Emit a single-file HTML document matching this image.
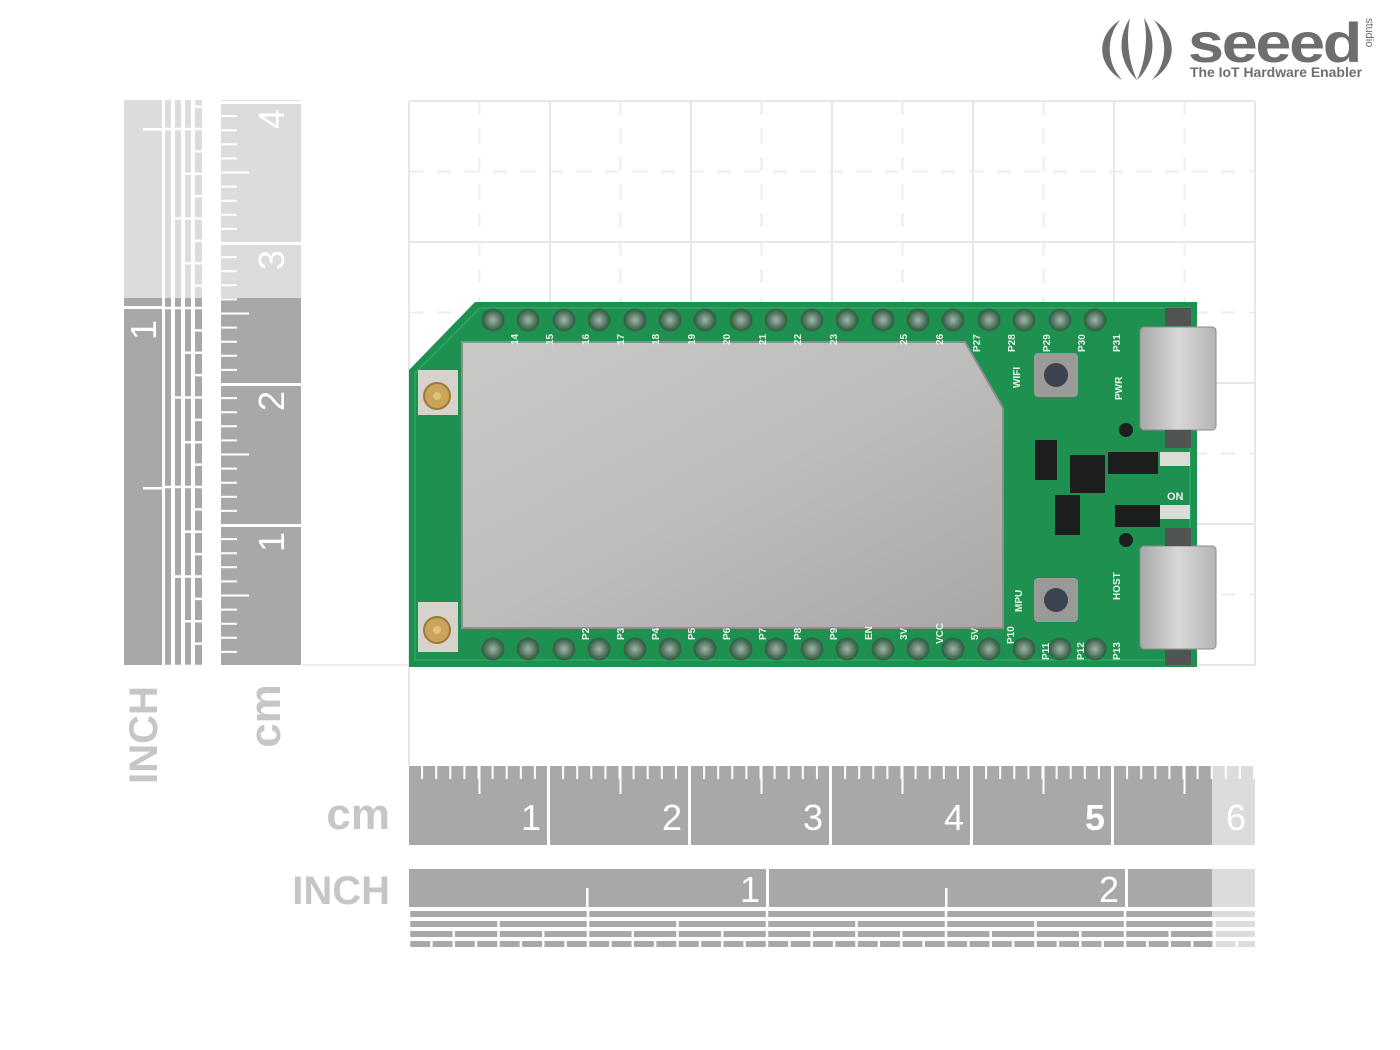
<!DOCTYPE html>
<html><head><meta charset="utf-8"><style>
html,body{margin:0;padding:0;background:#fff;}
svg{display:block;}
text{font-family:"Liberation Sans",sans-serif;}
</style></head><body>
<svg width="1400" height="1050" viewBox="0 0 1400 1050" xmlns="http://www.w3.org/2000/svg">
<defs>
 <linearGradient id="metal" x1="0" y1="0" x2="1" y2="1"><stop offset="0" stop-color="#c9c9c7"/><stop offset="0.5" stop-color="#bdbdbb"/><stop offset="1" stop-color="#a9a7a5"/></linearGradient>
 <linearGradient id="usb" x1="0" y1="0" x2="1" y2="0"><stop offset="0" stop-color="#a8a8a8"/><stop offset="0.5" stop-color="#d8d8d8"/><stop offset="1" stop-color="#b5b5b5"/></linearGradient>
 <radialGradient id="pin"><stop offset="0" stop-color="#9fb8a8"/><stop offset="0.6" stop-color="#5d7d6a"/><stop offset="1" stop-color="#2f5a40"/></radialGradient>
</defs>

<!-- background grid -->
<g stroke="#e6e6e6" stroke-width="2" fill="none">
 <path d="M409 101H1255M409 242H1255M409 383H1255M409 524H1255M409 665H1255"/>
 <path d="M409 101V765M550 101V665M691 101V665M832 101V665M973 101V665M1114 101V665M1255 101V665"/>
</g>
<g stroke="#ececec" stroke-width="2" stroke-dasharray="14 14" fill="none">
 <path d="M409 171.5H1255M409 312.5H1255M409 453.5H1255M409 594.5H1255"/>
 <path d="M479.5 101V665M620.5 101V665M761.5 101V665M902.5 101V665M1043.5 101V665M1184.5 101V665"/>
</g>
<path d="M302 665H409" stroke="#ececec" stroke-width="2"/>

<!-- bottom cm ruler -->
<rect x="409" y="766" width="803" height="79" fill="#a7a8a7"/>
<rect x="1212" y="766" width="43" height="79" fill="#dcdcdc"/>
<line x1="421.1" y1="772.5" x2="1255" y2="772.5" stroke="#fff" stroke-width="13" stroke-dasharray="2 12.1"/>
<line x1="478.5" y1="780" x2="1255" y2="780" stroke="#fff" stroke-width="28" stroke-dasharray="2 139"/>
<g fill="#fff"><rect x="547" y="766" width="3" height="79"/><rect x="688" y="766" width="3" height="79"/><rect x="829" y="766" width="3" height="79"/><rect x="970" y="766" width="3" height="79"/><rect x="1111" y="766" width="3" height="79"/></g>
<g fill="#fff" font-size="36" text-anchor="end">
 <text x="541" y="830">1</text><text x="682" y="830">2</text><text x="823" y="830">3</text><text x="964" y="830">4</text><text x="1105" y="830" font-weight="bold">5</text><text x="1246" y="830">6</text>
</g>
<text x="390" y="829" font-size="44" font-weight="bold" fill="#c6c6c6" text-anchor="end">cm</text>

<!-- bottom inch ruler -->
<rect x="409" y="869" width="803" height="38" fill="#a7a8a7"/>
<rect x="1212" y="869" width="43" height="38" fill="#dcdcdc"/>
<g>
 <rect x="409" y="911" width="803" height="6" fill="#a7a8a7"/><rect x="409" y="921" width="803" height="6" fill="#a7a8a7"/><rect x="409" y="931" width="803" height="6" fill="#a7a8a7"/><rect x="409" y="941" width="803" height="6" fill="#a7a8a7"/>
 <rect x="1212" y="911" width="43" height="6" fill="#dcdcdc"/><rect x="1212" y="921" width="43" height="6" fill="#dcdcdc"/><rect x="1212" y="931" width="43" height="6" fill="#dcdcdc"/><rect x="1212" y="941" width="43" height="6" fill="#dcdcdc"/>
</g>
<g stroke="#fff" stroke-width="2.5">
 <line x1="407.75" y1="914" x2="1256" y2="914" stroke-dasharray="2.5 176.5" stroke-width="6"/>
 <line x1="407.75" y1="924" x2="1256" y2="924" stroke-dasharray="2.5 87" stroke-width="6"/>
 <line x1="407.75" y1="934" x2="1256" y2="934" stroke-dasharray="2.5 42.25" stroke-width="6"/>
 <line x1="407.75" y1="944" x2="1256" y2="944" stroke-dasharray="2.5 19.875" stroke-width="6"/>
</g>
<rect x="766" y="869" width="3" height="40" fill="#fff"/><rect x="1125" y="869" width="3" height="40" fill="#fff"/>
<rect x="586" y="888" width="2.5" height="20" fill="#fff"/><rect x="945" y="888" width="2.5" height="20" fill="#fff"/>
<g fill="#fff" font-size="36" text-anchor="end"><text x="760" y="902">1</text><text x="1119" y="902">2</text></g>
<text x="390" y="904" font-size="40" font-weight="bold" fill="#c6c6c6" text-anchor="end">INCH</text>

<!-- left inch ruler -->
<rect x="124" y="100" width="38" height="198" fill="#dcdcdc"/>
<rect x="124" y="298" width="38" height="367" fill="#a7a8a7"/>
<g>
 <rect x="165" y="100" width="6" height="198" fill="#dcdcdc"/><rect x="175" y="100" width="6" height="198" fill="#dcdcdc"/><rect x="185" y="100" width="6" height="198" fill="#dcdcdc"/><rect x="195" y="100" width="7" height="198" fill="#dcdcdc"/>
 <rect x="165" y="298" width="6" height="367" fill="#a7a8a7"/><rect x="175" y="298" width="6" height="367" fill="#a7a8a7"/><rect x="185" y="298" width="6" height="367" fill="#a7a8a7"/><rect x="195" y="298" width="7" height="367" fill="#a7a8a7"/>
</g>
<g stroke="#fff">
 <line x1="168" y1="667.25" x2="168" y2="100" stroke-dasharray="2.5 176.5" stroke-width="6"/>
 <line x1="178" y1="667.25" x2="178" y2="100" stroke-dasharray="2.5 87" stroke-width="6"/>
 <line x1="188" y1="667.25" x2="188" y2="100" stroke-dasharray="2.5 42.25" stroke-width="6"/>
 <line x1="198.5" y1="667.25" x2="198.5" y2="100" stroke-dasharray="2.5 19.875" stroke-width="7"/>
</g>
<rect x="124" y="306" width="40" height="3" fill="#fff"/>
<rect x="143" y="487" width="20" height="2.5" fill="#fff"/><rect x="143" y="128" width="20" height="2.5" fill="#fff"/>
<text transform="translate(156,320) rotate(-90)" font-size="36" fill="#fff" text-anchor="end">1</text>
<text transform="translate(157,735) rotate(-90)" font-size="40" font-weight="bold" fill="#c6c6c6" text-anchor="middle">INCH</text>

<!-- left cm ruler -->
<rect x="221" y="100" width="80" height="198" fill="#dcdcdc"/>
<rect x="221" y="298" width="80" height="367" fill="#a7a8a7"/>
<line x1="229" y1="652.9" x2="229" y2="100" stroke="#fff" stroke-width="16" stroke-dasharray="2 12.1"/>
<line x1="235" y1="596.5" x2="235" y2="100" stroke="#fff" stroke-width="28" stroke-dasharray="2 139"/>
<g fill="#fff"><rect x="221" y="524" width="80" height="3"/><rect x="221" y="383" width="80" height="3"/><rect x="221" y="242" width="80" height="3"/><rect x="221" y="101" width="80" height="3"/></g>
<g fill="#fff" font-size="36" text-anchor="end">
 <text transform="translate(284,532) rotate(-90)">1</text>
 <text transform="translate(284,391) rotate(-90)">2</text>
 <text transform="translate(284,250) rotate(-90)">3</text>
 <text transform="translate(284,109) rotate(-90)">4</text>
</g>
<text transform="translate(280,716) rotate(-90)" font-size="44" font-weight="bold" fill="#c6c6c6" text-anchor="middle">cm</text>

<!-- PCB -->
<path d="M475 302H1197V667H409V370Z" fill="#1e9150"/>
<path d="M480 308H1190V660H415V373Z" fill="none" stroke="#27a35e" stroke-width="2"/>
<path d="M462 342H965L1003 408V628H462Z" fill="url(#metal)" stroke="#8e8e8c" stroke-width="2"/>
<g fill="url(#pin)" stroke="#2d6a45" stroke-width="1">
 <circle cx="493" cy="320" r="11"/><circle cx="528" cy="320" r="11"/><circle cx="564" cy="320" r="11"/><circle cx="599" cy="320" r="11"/><circle cx="635" cy="320" r="11"/><circle cx="670" cy="320" r="11"/><circle cx="705" cy="320" r="11"/><circle cx="741" cy="320" r="11"/><circle cx="776" cy="320" r="11"/><circle cx="812" cy="320" r="11"/><circle cx="847" cy="320" r="11"/><circle cx="883" cy="320" r="11"/><circle cx="918" cy="320" r="11"/><circle cx="953" cy="320" r="11"/><circle cx="989" cy="320" r="11"/><circle cx="1024" cy="320" r="11"/><circle cx="1060" cy="320" r="11"/><circle cx="1095" cy="320" r="11"/>
 <circle cx="493" cy="649" r="11"/><circle cx="528" cy="649" r="11"/><circle cx="564" cy="649" r="11"/><circle cx="599" cy="649" r="11"/><circle cx="635" cy="649" r="11"/><circle cx="670" cy="649" r="11"/><circle cx="705" cy="649" r="11"/><circle cx="741" cy="649" r="11"/><circle cx="776" cy="649" r="11"/><circle cx="812" cy="649" r="11"/><circle cx="847" cy="649" r="11"/><circle cx="883" cy="649" r="11"/><circle cx="918" cy="649" r="11"/><circle cx="953" cy="649" r="11"/><circle cx="989" cy="649" r="11"/><circle cx="1024" cy="649" r="11"/><circle cx="1060" cy="649" r="11"/><circle cx="1095" cy="649" r="11"/>
</g>
<g fill="#e8f3ea" font-size="10" font-weight="bold">
 <text transform="translate(518,345) rotate(-90)">14</text><text transform="translate(553,345) rotate(-90)">15</text><text transform="translate(589,345) rotate(-90)">16</text><text transform="translate(624,345) rotate(-90)">17</text><text transform="translate(659,345) rotate(-90)">18</text><text transform="translate(695,345) rotate(-90)">19</text><text transform="translate(730,345) rotate(-90)">20</text><text transform="translate(766,345) rotate(-90)">21</text><text transform="translate(801,345) rotate(-90)">22</text><text transform="translate(837,345) rotate(-90)">23</text><text transform="translate(907,345) rotate(-90)">25</text><text transform="translate(943,345) rotate(-90)">26</text>
 <text transform="translate(980,352) rotate(-90)">P27</text><text transform="translate(1015,352) rotate(-90)">P28</text><text transform="translate(1050,352) rotate(-90)">P29</text><text transform="translate(1085,352) rotate(-90)">P30</text><text transform="translate(1120,352) rotate(-90)">P31</text>
 <text transform="translate(1020,388) rotate(-90)">WIFI</text><text transform="translate(1122,400) rotate(-90)">PWR</text>
 <text transform="translate(1022,612) rotate(-90)">MPU</text><text transform="translate(1120,600) rotate(-90)">HOST</text>
 <text transform="translate(589,640) rotate(-90)">P2</text><text transform="translate(624,640) rotate(-90)">P3</text><text transform="translate(659,640) rotate(-90)">P4</text><text transform="translate(695,640) rotate(-90)">P5</text><text transform="translate(730,640) rotate(-90)">P6</text><text transform="translate(766,640) rotate(-90)">P7</text><text transform="translate(801,640) rotate(-90)">P8</text><text transform="translate(837,640) rotate(-90)">P9</text><text transform="translate(872,640) rotate(-90)">EN</text><text transform="translate(907,640) rotate(-90)">3V</text><text transform="translate(943,644) rotate(-90)">VCC</text><text transform="translate(978,640) rotate(-90)">5V</text><text transform="translate(1014,644) rotate(-90)">P10</text><text transform="translate(1049,660) rotate(-90)">P11</text><text transform="translate(1084,660) rotate(-90)">P12</text><text transform="translate(1120,660) rotate(-90)">P13</text>
 <text x="1167" y="500" font-size="11">ON</text>
</g>
<rect x="418" y="370" width="40" height="45" fill="#d6d3cc"/><circle cx="437" cy="396" r="13" fill="#c9a45a" stroke="#9c7a35" stroke-width="2"/><circle cx="437" cy="396" r="4" fill="#e2c27a"/>
<rect x="418" y="602" width="40" height="50" fill="#d6d3cc"/><circle cx="437" cy="630" r="13" fill="#c9a45a" stroke="#9c7a35" stroke-width="2"/><circle cx="437" cy="630" r="4" fill="#e2c27a"/>
<rect x="1034" y="353" width="44" height="44" rx="4" fill="#9a9a98"/><circle cx="1056" cy="375" r="12" fill="#3d4350"/>
<rect x="1034" y="578" width="44" height="44" rx="4" fill="#9a9a98"/><circle cx="1056" cy="600" r="12" fill="#3d4350"/>
<rect x="1035" y="440" width="22" height="40" fill="#1d1f1f"/>
<rect x="1070" y="455" width="35" height="38" fill="#1d1f1f"/>
<rect x="1108" y="452" width="50" height="22" fill="#1d1f1f"/>
<rect x="1055" y="495" width="25" height="40" fill="#1d1f1f"/>
<rect x="1115" y="505" width="45" height="22" fill="#1d1f1f"/>
<rect x="1160" y="452" width="30" height="14" fill="#d9ddd6"/><rect x="1160" y="505" width="30" height="14" fill="#d9ddd6"/>
<circle cx="1126" cy="430" r="7" fill="#1d1f1f"/><circle cx="1126" cy="540" r="7" fill="#1d1f1f"/>
<rect x="1140" y="327" width="76" height="103" rx="4" fill="url(#usb)" stroke="#8a8a8a"/>
<rect x="1140" y="546" width="76" height="103" rx="4" fill="url(#usb)" stroke="#8a8a8a"/>
<rect x="1165" y="308" width="26" height="18" fill="#505553"/><rect x="1165" y="430" width="26" height="18" fill="#505553"/>
<rect x="1165" y="528" width="26" height="18" fill="#505553"/><rect x="1165" y="650" width="26" height="15" fill="#505553"/>

<!-- logo -->
<g fill="#6e6e6e">
 <path d="M1120 20C1096 36 1096 64 1122 80C1106 62 1106 38 1120 20Z"/>
 <path d="M1154 20C1178 36 1178 64 1152 80C1168 62 1168 38 1154 20Z"/>
 <path d="M1130 18C1116 40 1120 64 1137 80C1128 60 1126 38 1130 18Z"/>
 <path d="M1144 18C1158 40 1154 64 1137 80C1146 60 1148 38 1144 18Z"/>
</g>
<text x="1188" y="62" font-size="56" font-weight="bold" fill="#6e6e6e" letter-spacing="-2" textLength="172" lengthAdjust="spacingAndGlyphs">seeed</text>
<text x="1190" y="77" font-size="14" font-weight="bold" fill="#6e6e6e" textLength="172" lengthAdjust="spacingAndGlyphs">The IoT Hardware Enabler</text>
<text transform="translate(1366,18) rotate(90)" font-size="11" fill="#6e6e6e">studio</text>
</svg>
</body></html>
